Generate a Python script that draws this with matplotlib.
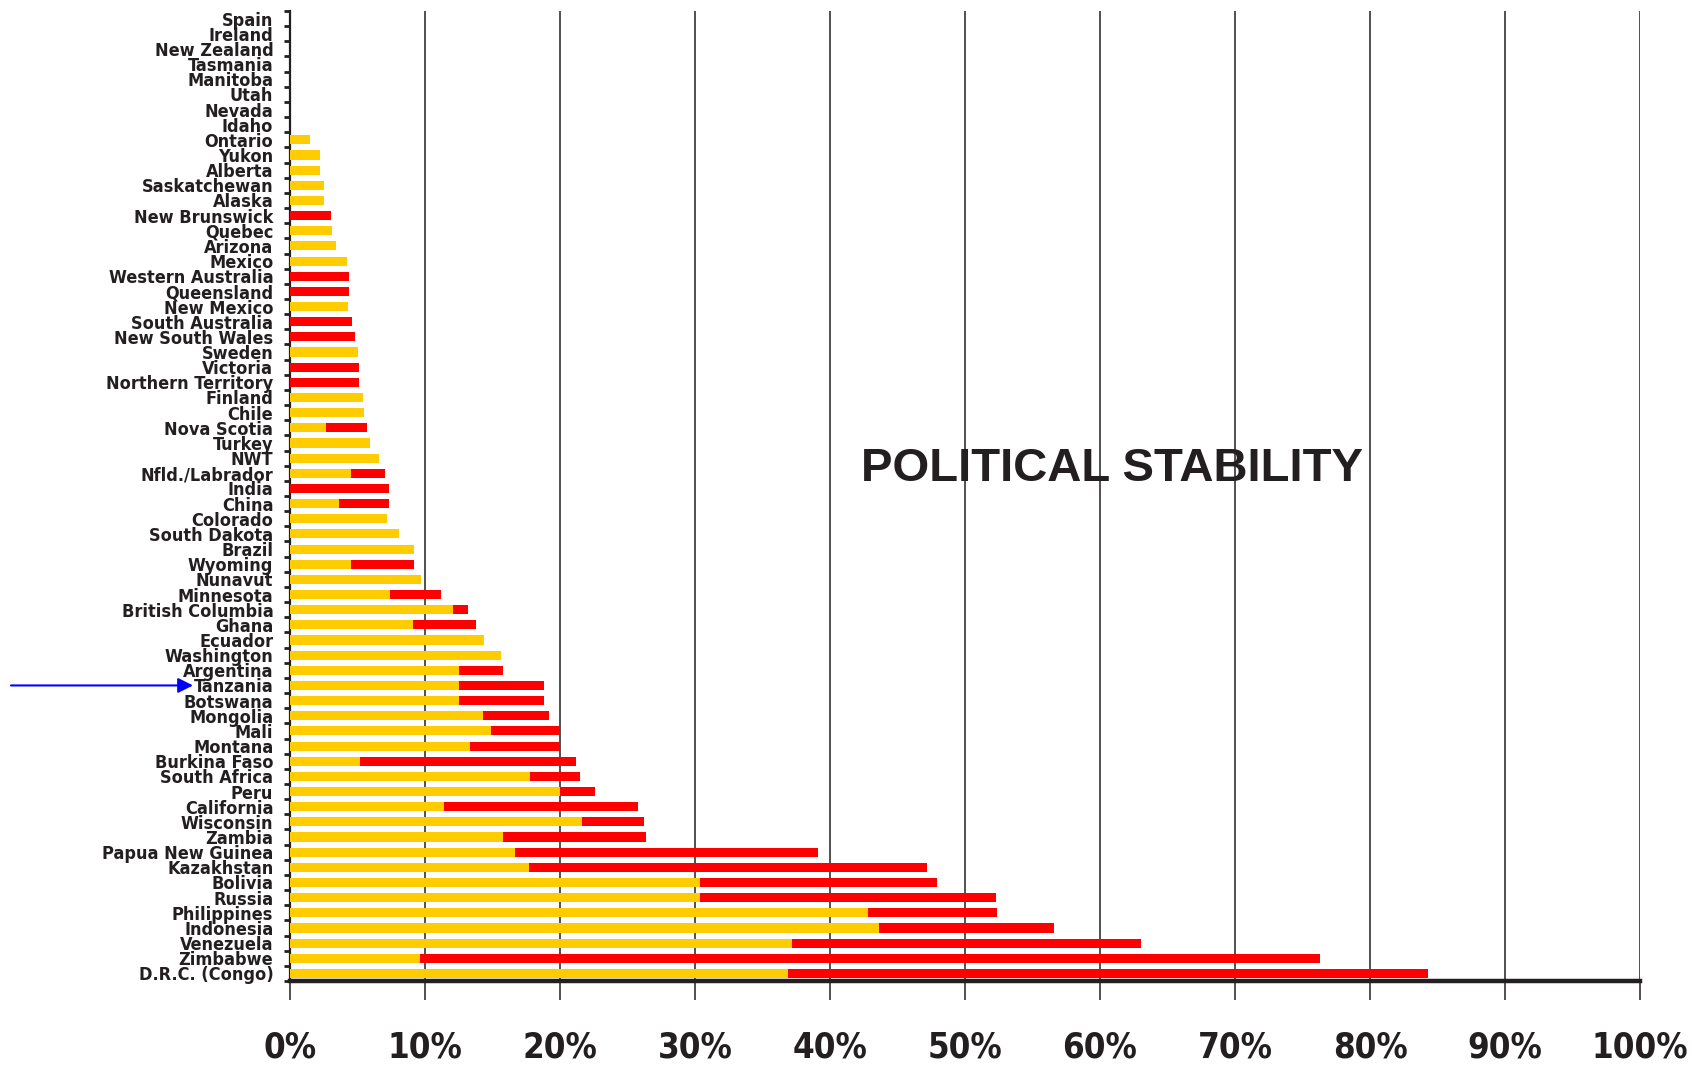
import numpy as np
import matplotlib
matplotlib.use('Agg')
import matplotlib.pyplot as plt
from matplotlib import font_manager
from matplotlib.ticker import FixedLocator, PercentFormatter

# categories top -> bottom
regions = [
    'Spain', 'Ireland', 'New Zealand', 'Tasmania', 'Manitoba', 'Utah', 'Nevada', 'Idaho',
    'Ontario', 'Yukon', 'Alberta', 'Saskatchewan', 'Alaska', 'New Brunswick', 'Quebec',
    'Arizona', 'Mexico', 'Western Australia', 'Queensland', 'New Mexico', 'South Australia',
    'New South Wales', 'Sweden', 'Victoria', 'Northern Territory', 'Finland', 'Chile',
    'Nova Scotia', 'Turkey', 'NWT', 'Nfld./Labrador', 'India', 'China', 'Colorado',
    'South Dakota', 'Brazil', 'Wyoming', 'Nunavut', 'Minnesota', 'British Columbia', 'Ghana',
    'Ecuador', 'Washington', 'Argentina', 'Tanzania', 'Botswana', 'Mongolia', 'Mali',
    'Montana', 'Burkina Faso', 'South Africa', 'Peru', 'California', 'Wisconsin', 'Zambia',
    'Papua New Guinea', 'Kazakhstan', 'Bolivia', 'Russia', 'Philippines', 'Indonesia',
    'Venezuela', 'Zimbabwe', 'D.R.C. (Congo)',
]

# yellow segment (%) and end of red segment (%)
yellow = [
    0, 0, 0, 0, 0, 0, 0, 0,
    1.5, 2.2, 2.2, 2.5, 2.5, 0, 3.1,
    3.4, 4.2, 0, 0, 4.3, 0,
    0, 5.0, 0, 0, 5.4, 5.5,
    2.7, 5.9, 6.6, 4.5, 0, 3.6, 7.2,
    8.1, 9.2, 4.5, 9.7, 7.4, 12.1, 9.1,
    14.4, 15.6, 12.5, 12.5, 12.5, 14.3, 14.9,
    13.3, 5.2, 17.8, 20.0, 11.4, 21.6, 15.8,
    16.7, 17.7, 30.4, 30.4, 42.8, 43.6,
    37.2, 9.6, 36.9,
]
total = [
    0, 0, 0, 0, 0, 0, 0, 0,
    1.5, 2.2, 2.2, 2.5, 2.5, 3.0, 3.1,
    3.4, 4.2, 4.4, 4.4, 4.3, 4.6,
    4.8, 5.0, 5.1, 5.1, 5.4, 5.5,
    5.7, 5.9, 6.6, 7.0, 7.3, 7.3, 7.2,
    8.1, 9.2, 9.2, 9.7, 11.2, 13.2, 13.8,
    14.4, 15.6, 15.8, 18.8, 18.8, 19.2, 20.0,
    20.0, 21.2, 21.5, 22.6, 25.8, 26.2, 26.4,
    39.1, 47.2, 47.9, 52.3, 52.4, 56.6,
    63.0, 76.3, 84.3,
]

x_ticks = [0, 10, 20, 30, 40, 50, 60, 70, 80, 90, 100]

INK = '#231f20'
YELLOW, RED = '#ffcc00', '#ff0000'

# narrow face for the labels if one is around
names = {f.name for f in font_manager.fontManager.ttflist}
NARROW = 'Liberation Sans Narrow' if 'Liberation Sans Narrow' in names else 'DejaVu Sans'

y_pos = np.arange(len(regions))
yellow = np.array(yellow)
red = np.array(total) - yellow

fig = plt.figure(figsize=(16.92, 10.69), dpi=100)
ax = fig.add_axes([290 / 1692, 1 - 981 / 1069, 1350 / 1692, 970 / 1069])

ax.barh(y_pos, yellow, height=0.6, color=YELLOW, zorder=3)
ax.barh(y_pos, red, left=yellow, height=0.6, color=RED, zorder=3)

ax.set_xlim(0, 100)
ax.set_ylim(len(regions) - 0.5, -0.5)

# vertical gridlines reaching below the axis as ticks
ax.set_xticks(x_ticks)
ax.xaxis.set_major_formatter(PercentFormatter(decimals=0))
ax.grid(axis='x', color=INK, linewidth=1.1, zorder=1)
ax.tick_params(axis='x', direction='out', length=14, width=1.1, color=INK, pad=22)
for lab in ax.get_xticklabels():
    lab.set_family([NARROW, 'DejaVu Sans'])
    lab.set_fontweight('bold')
    lab.set_fontstretch('condensed')
    lab.set_fontsize(25)
    lab.set_color(INK)

ax.set_yticks(y_pos)
ax.set_yticklabels(regions, family=[NARROW, 'DejaVu Sans'], fontstretch='condensed',
                   fontweight='bold', fontsize=13, color=INK)
ax.yaxis.set_minor_locator(FixedLocator(np.arange(-0.5, len(regions), 1)))
ax.tick_params(axis='y', which='major', length=0, pad=12)
ax.tick_params(axis='y', which='minor', length=4, width=2, color=INK)

for side in ('top', 'right'):
    ax.spines[side].set_visible(False)
ax.spines['left'].set_linewidth(1.6)
ax.spines['left'].set_color(INK)
ax.spines['bottom'].set_linewidth(3.2)
ax.spines['bottom'].set_color(INK)
ax.spines['bottom'].set_zorder(4)

fig.text(1112 / 1692, 1 - 469 / 1069, 'POLITICAL STABILITY', ha='center', va='center',
         family=['Liberation Sans', 'DejaVu Sans'], fontweight='bold', fontsize=34, color=INK)

# arrow pointing at Tanzania
ax.annotate('', xy=(193 / 1692, regions.index('Tanzania')), xycoords=('figure fraction', 'data'),
            xytext=(11 / 1692, regions.index('Tanzania')), textcoords=('figure fraction', 'data'),
            arrowprops=dict(arrowstyle='-|>,head_length=0.9,head_width=0.45', color='#0000ff',
                            lw=1.5, shrinkA=0, shrinkB=0),
            annotation_clip=False)

fig.savefig('out.png', dpi=100)
